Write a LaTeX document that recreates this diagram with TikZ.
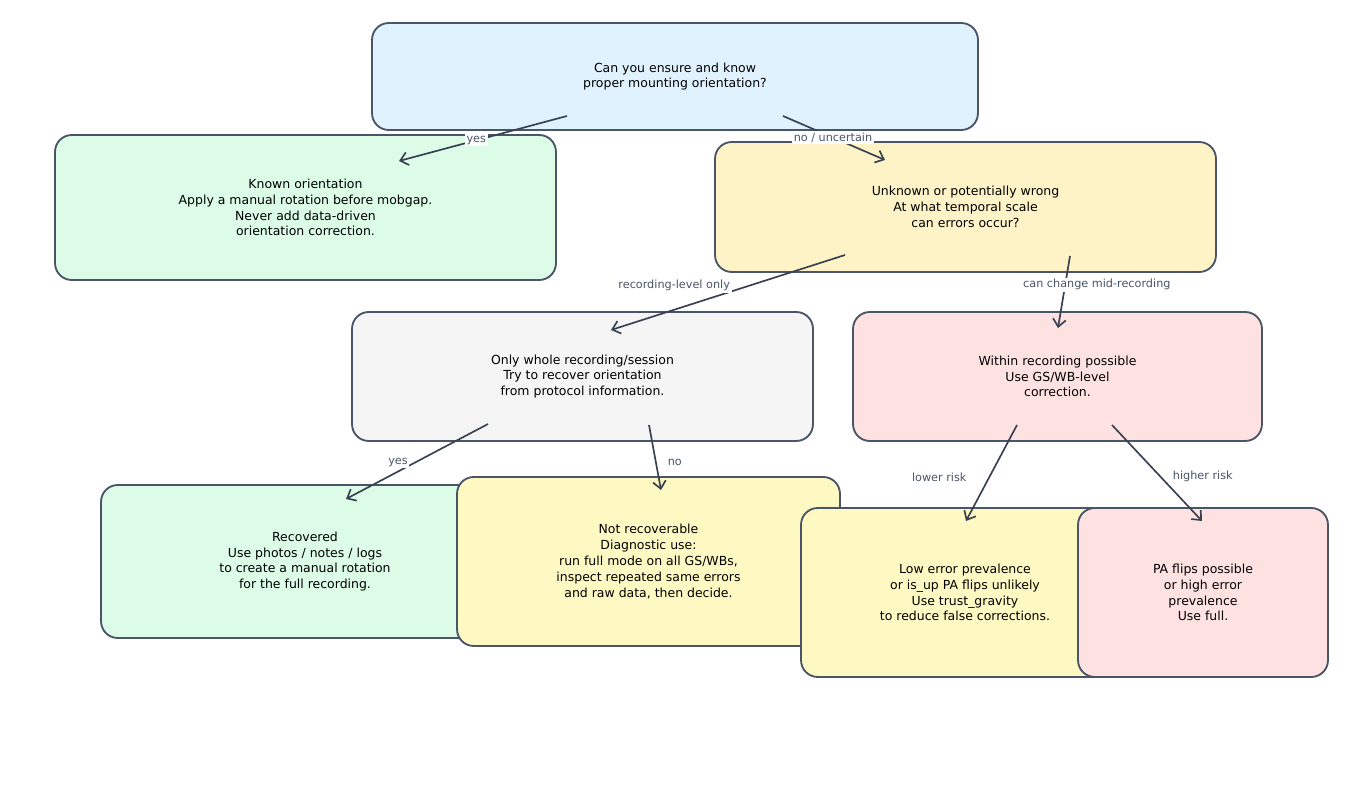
\documentclass[tikz,border=0pt]{standalone}
\usepackage{fontspec}
\setmainfont{DejaVu Sans}
\usetikzlibrary{positioning, arrows.meta, calc}
\definecolor{edgegray}{HTML}{4A5568}
\definecolor{arrgray}{HTML}{374151}
\definecolor{askfill}{HTML}{E0F2FE}
\definecolor{okfill}{HTML}{DCFCE7}
\definecolor{warnfill}{HTML}{FEF3C7}
\definecolor{plainfill}{HTML}{F5F5F5}
\definecolor{riskfill}{HTML}{FEE2E2}
\definecolor{diagfill}{HTML}{FEF9C3}

\begin{document}
\begin{tikzpicture}[
  x=0.02cm, y=-0.02cm,
  >={Straight Barb[length=1.5mm, width=2.6mm]},
  every node/.style={font=\fontsize{7.1}{9}\selectfont},
  box/.style      = {draw=edgegray, line width=1.05pt, rounded corners=9.5pt, align=center, inner sep=0pt},
  askbox/.style   = {box, fill=askfill},
  okbox/.style    = {box, fill=okfill},
  warnbox/.style  = {box, fill=warnfill},
  plainbox/.style = {box, fill=plainfill},
  riskbox/.style  = {box, fill=riskfill},
  diagbox/.style  = {box, fill=diagfill},
  arr/.style      = {->, line width=0.95pt, arrgray},
  lbl/.style      = {font=\fontsize{6.4}{7.6}\selectfont, text=edgegray, fill=white, inner sep=1pt},
]
  \useasboundingbox (0,0) rectangle (1350,800);

  % Decision boxes, drawn top to bottom so later ones sit on top.
  \node[askbox,   minimum width=12.12cm, minimum height=2.14cm] (ask)     at (675,76.5)
     {Can you ensure and know\\proper mounting orientation?};
  \node[okbox,    minimum width=10.02cm, minimum height=2.9cm]  (known)   at (305.5,207.5)
     {Known orientation\\Apply a manual rotation before mobgap.\\Never add data-driven\\orientation correction.};
  \node[warnbox,  minimum width=10.02cm, minimum height=2.6cm]  (unknown) at (965.5,207)
     {Unknown or potentially wrong\\At what temporal scale\\can errors occur?};
  \node[plainbox, minimum width=9.22cm,  minimum height=2.58cm] (whole)   at (582.5,376.5)
     {Only whole recording/session\\Try to recover orientation\\from protocol information.};
  \node[riskbox,  minimum width=8.18cm,  minimum height=2.58cm] (within)  at (1057.5,376.5)
     {Within recording possible\\Use GS/WB-level\\correction.};
  \node[okbox,    minimum width=8.16cm,  minimum height=3.06cm] (recov)   at (305,561.5)
     {Recovered\\Use photos / notes / logs\\to create a manual rotation\\for the full recording.};
  \node[diagbox,  minimum width=7.66cm,  minimum height=3.38cm] (norecov) at (648.5,561.5)
     {Not recoverable\\Diagnostic use:\\run full mode on all GS/WBs,\\inspect repeated same errors\\and raw data, then decide.};
  \node[diagbox,  minimum width=6.56cm,  minimum height=3.38cm] (lowrisk) at (965,592.5)
     {Low error prevalence\\or is\_up PA flips unlikely\\Use trust\_gravity\\to reduce false corrections.};
  \node[riskbox,  minimum width=5cm,     minimum height=3.38cm] (highrisk) at (1203,592.5)
     {PA flips possible\\or high error\\prevalence\\Use full.};

  % Branches
  \draw[arr] ($(ask)+(-108,39.5)$) -- ($(known)+(93.5,-46.5)$)
     node[lbl, pos=0.54] {yes};
  \draw[arr] ($(ask)+(108,39.5)$) -- ($(unknown)+(-80.5,-47)$)
     node[lbl, pos=0.49] {no / uncertain};
  \draw[arr] ($(unknown)+(-120.5,48)$) -- ($(whole)+(28.5,-46.5)$)
     node[lbl, pos=0.73, yshift=13.6pt] {recording-level only};
  \draw[arr] ($(unknown)+(104.5,49)$) -- ($(within)+(0.5,-48.5)$)
     node[lbl, pos=0.40, xshift=18pt] {can change mid-recording};
  \draw[arr] ($(whole)+(-94.5,47.5)$) -- ($(recov)+(41,-62.5)$)
     node[lbl, pos=0.51, xshift=-10pt] {yes};
  \draw[arr] ($(whole)+(66.5,48.5)$) -- ($(norecov)+(12.5,-71.5)$)
     node[lbl, pos=0.57, xshift=10.8pt] {no};
  \draw[arr] ($(within)+(-40.5,48.5)$) -- ($(lowrisk)+(1,-71.5)$)
     node[lbl, pos=0.54, xshift=-28.6pt] {lower risk};
  \draw[arr] ($(within)+(54.5,48.5)$) -- ($(highrisk)+(-1,-71.5)$)
     node[lbl, pos=0.54, xshift=24pt] {higher risk};
\end{tikzpicture}
\end{document}
